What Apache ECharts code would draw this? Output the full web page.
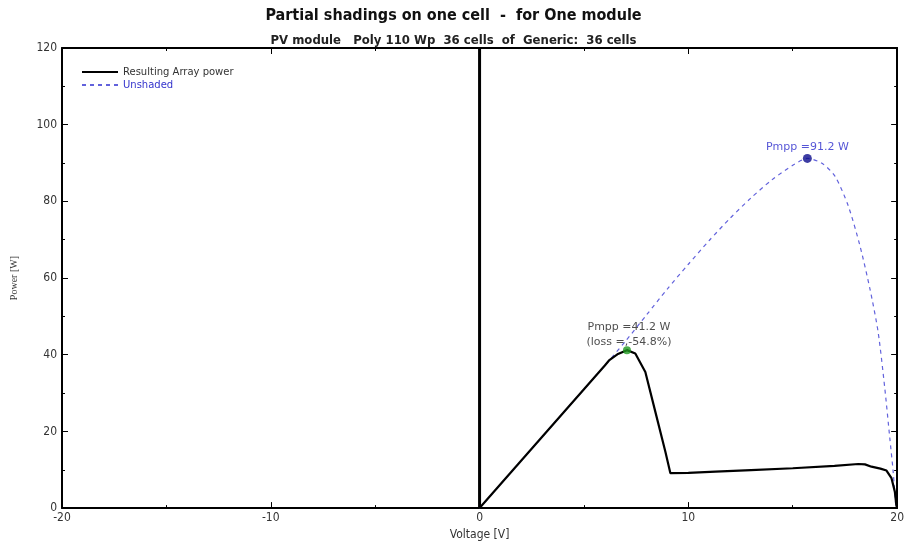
<!DOCTYPE html>
<html>
<head>
<meta charset="utf-8">
<script src="https://cdn.jsdelivr.net/npm/echarts@6/dist/echarts.min.js"></script>
<style>
html,body{margin:0;padding:0;background:#fff;}
#chart{width:907px;height:546px;}
</style>
</head>
<body>
<div id="chart"></div>
<script>
// ---- Data ----
var titleText = 'Partial shadings on one cell  -  for One module';
var subtitleText = 'PV module   Poly 110 Wp  36 cells  of  Generic:  36 cells';
var xTicks = [-20, -10, 0, 10, 20];
var yTicks = [0, 20, 40, 60, 80, 100, 120];

var shadedVoltage = [0, 1, 2, 3, 4, 5, 6, 6.2, 6.6, 7.06, 7.46, 7.94, 8.42, 8.9, 9.14, 10, 11.3, 13, 15, 17, 18.14, 18.46, 18.77, 19.2, 19.49, 19.73, 19.89, 19.97];
var shadedPower   = [0, 6.2, 12.4, 18.6, 24.8, 31.0, 37.2, 38.5, 40.1, 41.2, 40.3, 35.5, 25.1, 14.7, 9.1, 9.2, 9.5, 9.9, 10.4, 11.0, 11.5, 11.4, 10.8, 10.3, 9.8, 7.8, 4.3, 0.4];

var unshadedVoltage = [0, 2, 4, 6, 7, 8, 9, 10, 11, 12, 13, 14, 15, 15.7, 16.38, 17.02, 17.66, 18.22, 18.7, 19.09, 19.41, 19.65, 19.81, 19.92, 19.95];
var unshadedPower   = [0, 12.4, 24.8, 37.2, 43.6, 50.4, 57.2, 63.6, 69.8, 75.6, 80.9, 85.6, 89.4, 91.2, 90.0, 86.6, 78.8, 68.4, 57.1, 45.9, 31.2, 18.2, 9.5, 1.7, 0];

var zeroLineVoltage = [0, 0];
var zeroLinePower = [0, 120];

var mppUnshaded = [15.7, 91.2];
var mppShaded = [7.06, 41.2];
var mppUnshadedLabel = 'Pmpp =91.2 W';
var mppShadedLabel = ['Pmpp =41.2 W', '(loss =,-54.8%)'];

function zip(a, b) { return a.map(function (v, i) { return [v, b[i]]; }); }

var narrow = "'Liberation Sans Narrow','DejaVu Sans Condensed','Liberation Sans',Arial,sans-serif";

var chart = echarts.init(document.getElementById('chart'), null, {renderer: 'canvas'});

var frameAxisLine = {show: true, onZero: false, lineStyle: {color: '#000', width: 2}};
var tickInside = {show: true, inside: true, length: 6, lineStyle: {color: '#000', width: 1}};
var minorInside = {show: true, splitNumber: 2, length: 3, lineStyle: {color: '#000', width: 1}};

chart.setOption({
  animation: false,
  backgroundColor: '#fff',
  title: [
    {text: titleText, left: 'center', top: 3,
     textStyle: {fontFamily: narrow, fontWeight: 'bold', fontSize: 16, color: '#111'}},
    {text: subtitleText, left: 'center', top: 29,
     textStyle: {fontFamily: narrow, fontWeight: 'bold', fontSize: 13, color: '#222'}}
  ],
  legend: {
    left: 76, top: 62, orient: 'vertical', itemGap: 3,
    itemWidth: 36, itemHeight: 10,
    itemStyle: {opacity: 0},
    textStyle: {fontFamily: 'DejaVu Sans', fontSize: 10, color: '#333'},
    data: [
      {name: 'Resulting Array power', textStyle: {color: '#333'}},
      {name: 'Unshaded', textStyle: {color: '#3333cc'}}
    ]
  },
  grid: {left: 62, right: 8, top: 48, bottom: 36},
  xAxis: [
    {type: 'value', min: xTicks[0], max: xTicks[xTicks.length - 1], interval: 10,
     position: 'bottom', axisLine: frameAxisLine, axisTick: tickInside, minorTick: minorInside,
     splitLine: {show: false},
     axisLabel: {color: '#333', fontFamily: narrow, fontSize: 12, margin: 4},
     name: 'Voltage [V]', nameLocation: 'middle', nameGap: 20,
     nameTextStyle: {color: '#333', fontFamily: narrow, fontSize: 12}},
    {type: 'value', min: xTicks[0], max: xTicks[xTicks.length - 1], interval: 10,
     position: 'top', axisLine: frameAxisLine, axisTick: tickInside, minorTick: minorInside,
     splitLine: {show: false}, axisLabel: {show: false}}
  ],
  yAxis: [
    {type: 'value', min: yTicks[0], max: yTicks[yTicks.length - 1], interval: 20,
     position: 'left', axisLine: frameAxisLine, axisTick: tickInside, minorTick: minorInside,
     splitLine: {show: false},
     axisLabel: {color: '#333', fontFamily: narrow, fontSize: 12, margin: 5},
     name: 'Power [W]', nameLocation: 'middle', nameGap: 43, nameRotate: 90,
     nameTextStyle: {color: '#333', fontFamily: "'Liberation Serif','DejaVu Serif',serif", fontSize: 10}},
    {type: 'value', min: yTicks[0], max: yTicks[yTicks.length - 1], interval: 20,
     position: 'right', axisLine: frameAxisLine, axisTick: tickInside, minorTick: minorInside,
     splitLine: {show: false}, axisLabel: {show: false}}
  ],
  series: [
    {
      name: 'zeroLine', type: 'line', data: zip(zeroLineVoltage, zeroLinePower),
      symbol: 'none', lineStyle: {color: '#000', width: 3}, silent: true, z: 3
    },
    {
      name: 'Unshaded', type: 'line', data: zip(unshadedVoltage, unshadedPower),
      symbol: 'none', smooth: 0.25,
      lineStyle: {color: '#6262dc', width: 1.2, type: [4, 4]}, itemStyle: {color: '#6262dc'}, z: 2
    },
    {
      name: 'Resulting Array power', type: 'line', data: zip(shadedVoltage, shadedPower),
      symbol: 'none', lineStyle: {color: '#000', width: 2.2}, itemStyle: {color: '#000'}, z: 4
    },
    {
      name: 'mppUnshaded', type: 'scatter', data: [mppUnshaded], symbolSize: 9,
      itemStyle: {color: '#0c0c8c'}, z: 6,
      label: {show: true, position: 'top', distance: 1, formatter: mppUnshadedLabel,
              color: '#2a2acc', fontFamily: 'DejaVu Sans', fontSize: 11}
    },
    {
      name: 'mppShaded', type: 'scatter', data: [mppShaded], symbolSize: 8,
      itemStyle: {color: '#1f9a1f'}, z: 6,
      label: {show: true, position: 'top', distance: 0, offset: [2, 4], formatter: mppShadedLabel.join('\n'),
              color: '#222', fontFamily: 'DejaVu Sans', fontSize: 11, lineHeight: 15}
    }
  ]
});
</script>
</body>
</html>
